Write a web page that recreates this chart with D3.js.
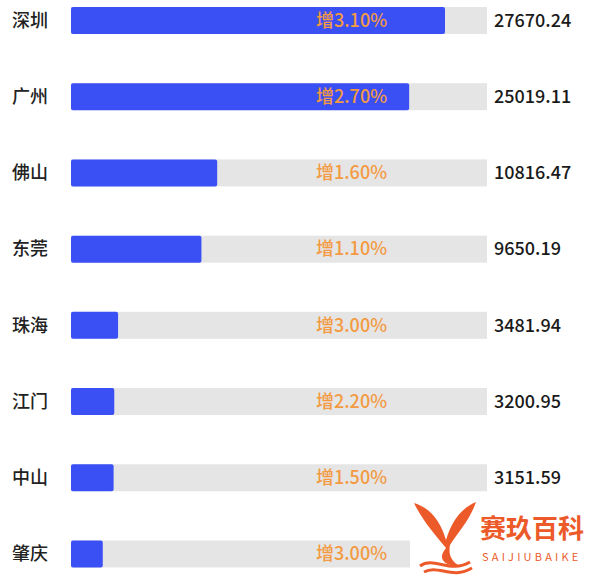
<!DOCTYPE html>
<html>
<head>
<meta charset="utf-8">
<script src="https://cdn.jsdelivr.net/npm/d3@7"></script>
<style>
  html, body { margin: 0; padding: 0; background: #fff; }
  .main { width: 600px; height: 579px; }
</style>
</head>
<body>
<div class="main"></div>
<script>
// data
const cities = ["深圳", "广州", "佛山", "东莞", "珠海", "江门", "中山", "肇庆"]
const gdp = [27670.24, 25019.11, 10816.47, 9650.19, 3481.94, 3200.95, 3151.59, 2350]
const growth = [3.10, 2.70, 1.60, 1.10, 3.00, 2.20, 1.50, 3.00]
// 肇庆's figure sits under the watermark, so it is not printed
const valueShown = [true, true, true, true, true, true, true, false]

const width = 600, height = 579
const barLeft = 71, trackRight = 487, barH = 27

const svg = d3.select(".main")
    .append("svg")
    .attr("width", width)
    .attr("height", height)
    .style("font-family", "'Noto Sans CJK SC', 'Noto Sans', sans-serif")

const rows = cities.map((c, i) => ({ city: c, value: gdp[i], rate: growth[i], shown: valueShown[i] }))

const x = d3.scaleLinear()
    .domain([0, gdp[0]])
    .range([barLeft, 445])

const y = d3.scalePoint()
    .domain(cities)
    .range([20.5, 554])

const row = svg.selectAll("g.row")
    .data(rows)
    .join("g")
    .attr("class", "row")
    .attr("transform", d => `translate(0, ${y(d.city)})`)

// grey track
row.append("rect")
    .attr("x", barLeft)
    .attr("y", -barH / 2)
    .attr("width", trackRight - barLeft)
    .attr("height", barH)
    .attr("fill", "#e5e5e5")

// blue bar
row.append("rect")
    .attr("x", x(0))
    .attr("y", -barH / 2)
    .attr("width", d => x(d.value) - x(0))
    .attr("height", barH)
    .attr("rx", 2)
    .attr("fill", "#3a50f5")

// city name
row.append("text")
    .attr("x", 12)
    .attr("dy", "0.35em")
    .attr("font-size", 18)
    .attr("font-weight", 500)
    .attr("fill", "#222")
    .text(d => d.city)

// growth label
row.append("text")
    .attr("x", 316)
    .attr("dy", "0.35em")
    .attr("font-size", 18)
    .attr("font-weight", 500)
    .attr("fill", "#f39a42")
    .text(d => "增" + d3.format(".2f")(d.rate) + "%")

// value
row.filter(d => d.shown)
    .append("text")
    .attr("x", trackRight + 7)
    .attr("dy", "0.35em")
    .attr("font-size", 18)
    .attr("font-weight", 500)
    .attr("fill", "#1a1a1a")
    .text(d => d3.format(".2f")(d.value))

// watermark
const wm = svg.append("g")
wm.append("rect")
    .attr("x", 410).attr("y", 498)
    .attr("width", 190).attr("height", 81)
    .attr("fill", "#fff")
wm.append("path")
    .attr("d", "M414,503 C430,508 440,520 446,540 C452,520 462,508 476,502 C470,520 458,532 450,545 C448,555 452,562 460,566 C446,566 436,560 446,548 C436,536 422,520 414,503 Z")
    .attr("fill", "#ec5a2a")
wm.append("path")
    .attr("d", "M420,566 C434,556 450,574 470,562 M424,572 C438,564 452,580 472,568")
    .attr("fill", "none")
    .attr("stroke", "#ec5a2a")
    .attr("stroke-width", 3)
wm.append("text")
    .attr("x", 480).attr("y", 538)
    .attr("font-size", 26)
    .attr("font-weight", "bold")
    .attr("fill", "#ec5a2a")
    .text("赛玖百科")
wm.append("text")
    .attr("x", 482).attr("y", 561)
    .attr("font-size", 11)
    .attr("letter-spacing", 3.2)
    .attr("fill", "#ec5a2a")
    .text("SAIJIUBAIKE")
</script>
</body>
</html>
